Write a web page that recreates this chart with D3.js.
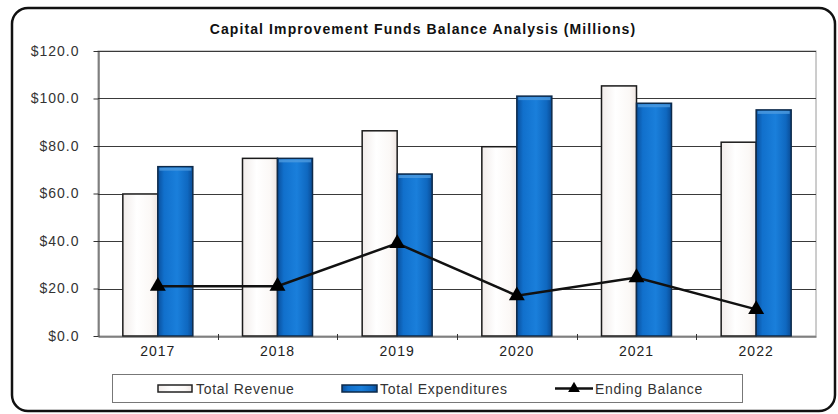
<!DOCTYPE html>
<html>
<head>
<meta charset="utf-8">
<script src="https://cdn.jsdelivr.net/npm/d3@7"></script>
<style>
  html, body { margin: 0; padding: 0; background: #fff; }
  svg { display: block; font-family: "Liberation Sans", Arial, sans-serif; }
</style>
</head>
<body>
<svg id="chart" width="838" height="414"></svg>
<script>
// Capital improvement funds, in millions of dollars
const years = ["2017", "2018", "2019", "2020", "2021", "2022"];
const totalRevenue = [59.8, 74.8, 86.4, 79.7, 105.3, 81.6];
const totalExpenditures = [71.3, 74.8, 68.2, 101.0, 98.0, 95.2];
const endingBalance = [21.0, 21.0, 39.0, 17.0, 24.6, 11.2];
const yTicks = [0, 20, 40, 60, 80, 100, 120];
const seriesNames = ["Total Revenue", "Total Expenditures", "Ending Balance"];

const svg = d3.select("#chart");
const plot = { left: 98, right: 816, top: 51, bottom: 336 };
const labelFont = { size: 14, spacing: 1 };

// gradients for the bars
const defs = svg.append("defs");
const gBlue = defs.append("linearGradient").attr("id", "gBlue").attr("x1", 0).attr("x2", 1).attr("y1", 0).attr("y2", 0);
gBlue.append("stop").attr("offset", "0%").attr("stop-color", "#0a4f9c");
gBlue.append("stop").attr("offset", "18%").attr("stop-color", "#1170cc");
gBlue.append("stop").attr("offset", "55%").attr("stop-color", "#1a7fdb");
gBlue.append("stop").attr("offset", "85%").attr("stop-color", "#0f68c0");
gBlue.append("stop").attr("offset", "100%").attr("stop-color", "#0a4b94");
const gWhite = defs.append("linearGradient").attr("id", "gWhite").attr("x1", 0).attr("x2", 1).attr("y1", 0).attr("y2", 0);
gWhite.append("stop").attr("offset", "0%").attr("stop-color", "#f1ecea");
gWhite.append("stop").attr("offset", "40%").attr("stop-color", "#ffffff");
gWhite.append("stop").attr("offset", "80%").attr("stop-color", "#fbf8f6");
gWhite.append("stop").attr("offset", "100%").attr("stop-color", "#efe6e2");

// outer rounded frame
svg.append("rect")
  .attr("x", 12).attr("y", 8).attr("width", 823).attr("height", 403)
  .attr("rx", 16).attr("ry", 16)
  .attr("fill", "#fff").attr("stroke", "#111").attr("stroke-width", 2.5);

// title
svg.append("text")
  .attr("x", 423).attr("y", 34)
  .attr("text-anchor", "middle")
  .attr("font-size", 14).attr("font-weight", "bold").attr("fill", "#111")
  .attr("letter-spacing", 1.1)
  .text("Capital Improvement Funds Balance Analysis (Millions)");

const x = d3.scaleBand().domain(years).range([plot.left, plot.right]).paddingInner(0).paddingOuter(0);
const y = d3.scaleLinear().domain([0, 120]).range([plot.bottom, plot.top]);
const barW = 35;

// plot frame (top/right)
svg.append("rect")
  .attr("x", plot.left).attr("y", plot.top)
  .attr("width", plot.right - plot.left).attr("height", plot.bottom - plot.top)
  .attr("fill", "none").attr("stroke", "#9a9a9a").attr("stroke-width", 1);

// gridlines
svg.append("g").selectAll("line").data(yTicks.filter(d => d > 0)).join("line")
  .attr("x1", plot.left).attr("x2", plot.right)
  .attr("y1", d => Math.round(y(d)) + 0.5).attr("y2", d => Math.round(y(d)) + 0.5)
  .attr("stroke", "#3a3a3a").attr("stroke-width", 1);

// y axis
const yAxis = d3.axisLeft(y).tickValues(yTicks).tickFormat(d3.format("$.1f")).tickSizeInner(5).tickSizeOuter(0).tickPadding(14);
const gy = svg.append("g").attr("transform", `translate(${plot.left + 0.5},0)`).call(yAxis);
gy.select(".domain").attr("stroke", "#333");
gy.selectAll(".tick line").attr("stroke", "#333");
gy.selectAll("text").attr("font-size", labelFont.size).attr("letter-spacing", labelFont.spacing)
  .attr("fill", "#333").attr("font-family", "Liberation Sans, Arial, sans-serif");

// bars
const barsG = svg.append("g");
years.forEach((yr, i) => {
  const cx = x(yr) + x.bandwidth() / 2;
  barsG.append("rect")
    .attr("x", cx - barW).attr("y", y(totalRevenue[i]))
    .attr("width", barW).attr("height", y(0) - y(totalRevenue[i]))
    .attr("fill", "url(#gWhite)").attr("stroke", "#1a1a1a").attr("stroke-width", 1.5);
  barsG.append("rect")
    .attr("x", cx).attr("y", y(totalExpenditures[i]))
    .attr("width", barW).attr("height", y(0) - y(totalExpenditures[i]))
    .attr("fill", "url(#gBlue)").attr("stroke", "#0d2a4a").attr("stroke-width", 1.5);
  // lighter cap on blue bar
  barsG.append("rect")
    .attr("x", cx + 1.5).attr("y", y(totalExpenditures[i]) + 1)
    .attr("width", barW - 3).attr("height", 3)
    .attr("fill", "#4d9be0").attr("opacity", 0.8);
});

// x axis
const xAxis = d3.axisBottom(x).tickSize(0).tickPadding(10);
const gx = svg.append("g").attr("transform", `translate(0,${plot.bottom + 0.5})`).call(xAxis);
gx.select(".domain").attr("stroke", "#333");
gx.selectAll("text").attr("font-size", labelFont.size).attr("letter-spacing", labelFont.spacing)
  .attr("fill", "#222").attr("font-family", "Liberation Sans, Arial, sans-serif");
// category separator ticks
svg.append("g").selectAll("line").data(years.slice(1)).join("line")
  .attr("x1", d => Math.round(x(d)) + 0.5).attr("x2", d => Math.round(x(d)) + 0.5)
  .attr("y1", plot.bottom - 2).attr("y2", plot.bottom + 4)
  .attr("stroke", "#333");

// ending balance line
const line = d3.line().x((d, i) => x(years[i]) + x.bandwidth() / 2).y(d => y(d));
svg.append("path").datum(endingBalance)
  .attr("d", line).attr("fill", "none").attr("stroke", "#111").attr("stroke-width", 2.5);
const tri = d3.symbol().type(d3.symbolTriangle).size(110);
svg.append("g").selectAll("path").data(endingBalance).join("path")
  .attr("transform", (d, i) => `translate(${x(years[i]) + x.bandwidth() / 2},${y(d)})`)
  .attr("d", tri).attr("fill", "#000");

// legend
const lg = svg.append("g");
lg.append("rect").attr("x", 112.5).attr("y", 374.5).attr("width", 630).attr("height", 28)
  .attr("fill", "#fff").attr("stroke", "#777").attr("stroke-width", 1);
const ly = 388.5;
const legendText = (tx, s) => lg.append("text").attr("x", tx).attr("y", ly + 5)
  .attr("font-size", labelFont.size).attr("letter-spacing", 0.7).attr("fill", "#333").text(s);
lg.append("rect").attr("x", 158).attr("y", ly - 3.5).attr("width", 34).attr("height", 7)
  .attr("fill", "url(#gWhite)").attr("stroke", "#222").attr("stroke-width", 1.5);
legendText(196, seriesNames[0]);
lg.append("rect").attr("x", 342).attr("y", ly - 3.5).attr("width", 35).attr("height", 7)
  .attr("fill", "url(#gBlue)").attr("stroke", "#0d2a4a").attr("stroke-width", 1.5);
legendText(380, seriesNames[1]);
lg.append("line").attr("x1", 555).attr("x2", 593).attr("y1", ly).attr("y2", ly)
  .attr("stroke", "#111").attr("stroke-width", 2.5);
lg.append("path").attr("transform", `translate(574,${ly})`).attr("d", d3.symbol().type(d3.symbolTriangle).size(60)).attr("fill", "#000");
legendText(595, seriesNames[2]);
</script>
</body>
</html>
